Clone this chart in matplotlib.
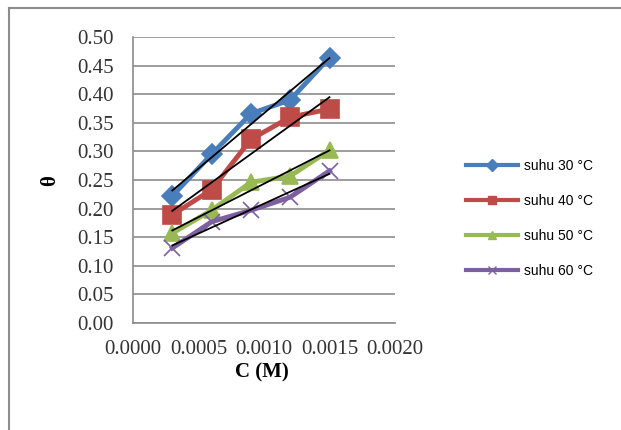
import numpy as np
import matplotlib
matplotlib.use("Agg")
import matplotlib.pyplot as plt
from matplotlib.lines import Line2D

# concentration (M)
conc = [0.0003, 0.0006, 0.0009, 0.0012, 0.0015]

theta_30 = [0.222, 0.295, 0.366, 0.390, 0.464]
theta_40 = [0.189, 0.233, 0.321, 0.360, 0.374]
theta_50 = [0.157, 0.197, 0.246, 0.257, 0.302]
theta_60 = [0.131, 0.177, 0.197, 0.220, 0.266]

labels = ["suhu 30 °C", "suhu 40 °C", "suhu 50 °C", "suhu 60 °C"]
x_ticks = [0.0000, 0.0005, 0.0010, 0.0015, 0.0020]
y_ticks = [0.00, 0.05, 0.10, 0.15, 0.20, 0.25, 0.30, 0.35, 0.40, 0.45, 0.50]

colors = ["#4A7EBB", "#BE4B48", "#98B954", "#7D60A0"]
markers = ["D", "s", "^", "x"]
msizes = [10, 13, 12, 12]

fig = plt.figure(figsize=(6.21, 4.30), dpi=100)
ax = fig.add_axes([133 / 621, 1 - 323 / 430, 262 / 621, 286 / 430])

series = [theta_30, theta_40, theta_50, theta_60]
handles = []
for y, c, m, ms, lab in zip(series, colors, markers, msizes, labels):
    ax.plot(conc, y, color=c, lw=3.5, marker=m, ms=ms, mew=1.2,
            mec=c, mfc=c, zorder=3)
    handles.append(Line2D([], [], color=c, lw=3, marker=m, ms=6, mec=c, mfc=c))
    # linear trend line
    k, b = np.polyfit(conc, y, 1)
    xs = np.array([conc[0], conc[-1]])
    ax.plot(xs, k * xs + b, color="black", lw=1.3, zorder=4)

ax.set_xlim(0, 0.002)
ax.set_ylim(0, 0.5)
ax.set_xticks(x_ticks)
ax.set_xticklabels([f"{v:.4f}" for v in x_ticks])
ax.set_yticks(y_ticks)
ax.set_yticklabels([f"{v:.2f}" for v in y_ticks])
ax.tick_params(length=0, labelsize=15)
ax.tick_params(axis="y", pad=14)
ax.tick_params(axis="x", pad=12)
for lab in ax.get_xticklabels() + ax.get_yticklabels():
    lab.set_family("Liberation Serif")
    lab.set_color("#333333")

ax.grid(axis="y", color="#8C8C8C", lw=1.2)
ax.set_axisbelow(True)
for s in ["top", "right"]:
    ax.spines[s].set_visible(False)
for s in ["left", "bottom"]:
    ax.spines[s].set_color("#8C8C8C")
    ax.spines[s].set_linewidth(1.2)

fig.text(262 / 621, 1 - 372 / 430, "C (M)", ha="center", va="center",
         fontsize=15, fontweight="bold", family="Liberation Serif")
fig.text(50 / 621, 1 - 181 / 430, "θ", ha="center", va="center", rotation=90,
         fontsize=15, fontweight="bold", family="Liberation Serif")

fig.legend(handles, labels, loc="upper left",
           bbox_to_anchor=(466 / 621, 1 - 159 / 430), frameon=False,
           borderpad=0, borderaxespad=0, handlelength=3.75, handletextpad=0.43,
           labelspacing=1.52, prop={"family": "Liberation Sans", "size": 10})

# chart area border (left and top)
fig.add_artist(Line2D([9 / 621, 9 / 621], [0, 1 - 8 / 430], color="#8C8C8C", lw=1.5))
fig.add_artist(Line2D([9 / 621, 1], [1 - 8 / 430, 1 - 8 / 430], color="#8C8C8C", lw=1.5))

fig.savefig("out.png", dpi=100)
